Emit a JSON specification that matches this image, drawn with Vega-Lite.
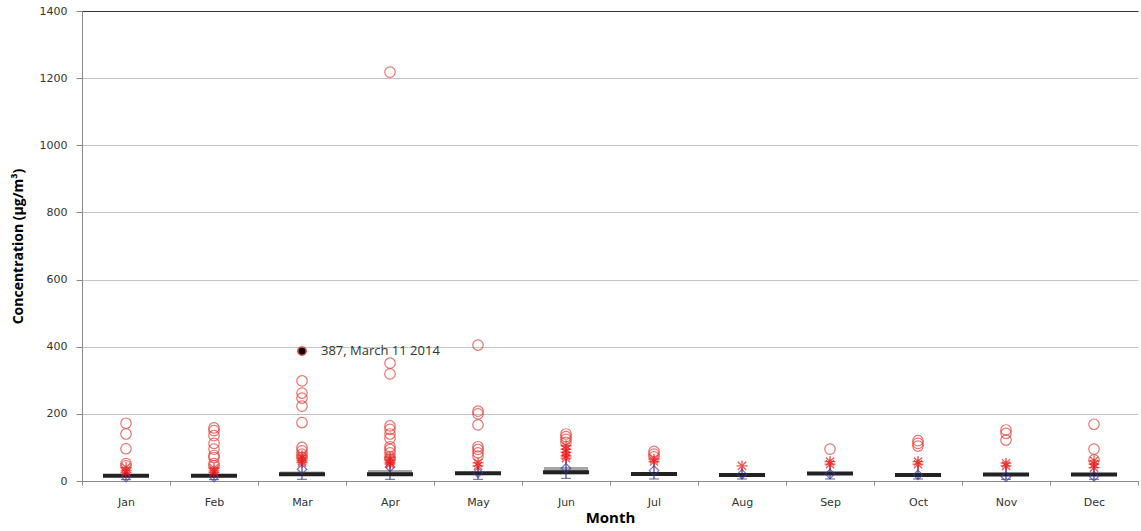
{
  "$schema": "https://vega.github.io/schema/vega-lite/v6.json",
  "width": 1056,
  "height": 470,
  "autosize": "none",
  "padding": {"left": 82, "top": 11, "right": 3, "bottom": 50},
  "background": "white",
  "config": {
    "view": {"stroke": null},
    "axis": {"labelFont": "DejaVu Sans", "labelFontSize": 11, "labelColor": "#333", "titleFont": "Open Sans", "titleFontSize": 14, "titleFontWeight": "bold", "titleColor": "#000", "domainColor": "#888", "tickColor": "#888"}
  },
  "datasets": {
    "stats": [
      {"month": "Jan", "q1": 13, "q3": 19, "median": 16, "mean": 12, "lo": 4, "hi": 30},
      {"month": "Feb", "q1": 13, "q3": 19, "median": 16, "mean": 12, "lo": 4, "hi": 30},
      {"month": "Mar", "q1": 15, "q3": 28, "median": 20, "mean": 35, "lo": 5, "hi": 60},
      {"month": "Apr", "q1": 15, "q3": 33, "median": 20, "mean": 42, "lo": 5, "hi": 60},
      {"month": "May", "q1": 18, "q3": 26, "median": 23, "mean": 25, "lo": 5, "hi": 45},
      {"month": "Jun", "q1": 20, "q3": 42, "median": 26, "mean": 38, "lo": 8, "hi": 65},
      {"month": "Jul", "q1": 18, "q3": 24, "median": 21, "mean": 31, "lo": 6, "hi": 60},
      {"month": "Aug", "q1": 16, "q3": 22, "median": 18, "mean": 20, "lo": 6, "hi": 40},
      {"month": "Sep", "q1": 18, "q3": 25, "median": 22, "mean": 21, "lo": 6, "hi": 50},
      {"month": "Oct", "q1": 15, "q3": 22, "median": 18, "mean": 18, "lo": 6, "hi": 45},
      {"month": "Nov", "q1": 15, "q3": 22, "median": 19, "mean": 13, "lo": 5, "hi": 45},
      {"month": "Dec", "q1": 15, "q3": 22, "median": 19, "mean": 14, "lo": 5, "hi": 50}
    ],
    "stars": [
      {"month": "Jan", "value": 40}, {"month": "Jan", "value": 30}, {"month": "Jan", "value": 25},
      {"month": "Feb", "value": 38}, {"month": "Feb", "value": 30}, {"month": "Feb", "value": 25},
      {"month": "Mar", "value": 75}, {"month": "Mar", "value": 68}, {"month": "Mar", "value": 60}, {"month": "Mar", "value": 55},
      {"month": "Apr", "value": 70}, {"month": "Apr", "value": 62}, {"month": "Apr", "value": 55}, {"month": "Apr", "value": 50},
      {"month": "May", "value": 54}, {"month": "May", "value": 45},
      {"month": "Jun", "value": 105}, {"month": "Jun", "value": 95}, {"month": "Jun", "value": 85}, {"month": "Jun", "value": 75}, {"month": "Jun", "value": 68},
      {"month": "Jul", "value": 65}, {"month": "Jul", "value": 58},
      {"month": "Aug", "value": 45},
      {"month": "Sep", "value": 58}, {"month": "Sep", "value": 50},
      {"month": "Oct", "value": 58}, {"month": "Oct", "value": 50},
      {"month": "Nov", "value": 53}, {"month": "Nov", "value": 45},
      {"month": "Dec", "value": 60}, {"month": "Dec", "value": 50}, {"month": "Dec", "value": 40}
    ],
    "outliers": [
      {"month": "Jan", "value": 172}, {"month": "Jan", "value": 140}, {"month": "Jan", "value": 96}, {"month": "Jan", "value": 52}, {"month": "Jan", "value": 45},
      {"month": "Feb", "value": 158}, {"month": "Feb", "value": 150}, {"month": "Feb", "value": 135}, {"month": "Feb", "value": 112}, {"month": "Feb", "value": 95}, {"month": "Feb", "value": 76}, {"month": "Feb", "value": 70}, {"month": "Feb", "value": 52}, {"month": "Feb", "value": 45},
      {"month": "Mar", "value": 298}, {"month": "Mar", "value": 262}, {"month": "Mar", "value": 247}, {"month": "Mar", "value": 223}, {"month": "Mar", "value": 174}, {"month": "Mar", "value": 100}, {"month": "Mar", "value": 90}, {"month": "Mar", "value": 80}, {"month": "Mar", "value": 70},
      {"month": "Apr", "value": 1218}, {"month": "Apr", "value": 351}, {"month": "Apr", "value": 319}, {"month": "Apr", "value": 164}, {"month": "Apr", "value": 154}, {"month": "Apr", "value": 140}, {"month": "Apr", "value": 127}, {"month": "Apr", "value": 102}, {"month": "Apr", "value": 94}, {"month": "Apr", "value": 84}, {"month": "Apr", "value": 72}, {"month": "Apr", "value": 65},
      {"month": "May", "value": 405}, {"month": "May", "value": 208}, {"month": "May", "value": 200}, {"month": "May", "value": 167}, {"month": "May", "value": 102}, {"month": "May", "value": 94}, {"month": "May", "value": 84}, {"month": "May", "value": 74},
      {"month": "Jun", "value": 140}, {"month": "Jun", "value": 132}, {"month": "Jun", "value": 124}, {"month": "Jun", "value": 115},
      {"month": "Jul", "value": 88}, {"month": "Jul", "value": 80}, {"month": "Jul", "value": 72},
      {"month": "Sep", "value": 95},
      {"month": "Oct", "value": 120}, {"month": "Oct", "value": 112}, {"month": "Oct", "value": 104},
      {"month": "Nov", "value": 152}, {"month": "Nov", "value": 142}, {"month": "Nov", "value": 122},
      {"month": "Dec", "value": 169}, {"month": "Dec", "value": 95}, {"month": "Dec", "value": 63}
    ],
    "highlight": [
      {"month": "Mar", "value": 387, "label": "387, March 11 2014"}
    ]
  },
  "encoding": {
    "x": {
      "field": "month", "type": "nominal",
      "sort": ["Jan", "Feb", "Mar", "Apr", "May", "Jun", "Jul", "Aug", "Sep", "Oct", "Nov", "Dec"],
      "scale": {"type": "band", "paddingInner": 0, "paddingOuter": 0, "domain": ["Jan", "Feb", "Mar", "Apr", "May", "Jun", "Jul", "Aug", "Sep", "Oct", "Nov", "Dec"]},
      "axis": {"title": "Month", "titleFontSize": 15, "labelAngle": 0, "tickBand": "extent", "tickSize": 4, "labelPadding": 11, "titlePadding": 3, "grid": false}
    }
  },
  "layer": [
    {
      "data": {"name": "stats"},
      "mark": {"type": "bar", "size": 44, "color": "#a6a6a6"},
      "encoding": {
        "y": {"field": "q1", "type": "quantitative",
          "scale": {"domain": [0, 1400], "nice": false},
          "axis": {"title": "Concentration (µg/m³)", "format": "d", "values": [0, 200, 400, 600, 800, 1000, 1200, 1400], "tickSize": 6, "labelPadding": 9, "titlePadding": 14,
            "gridColor": {"condition": {"test": "datum.value === 1400", "value": "#333"}, "value": "#c4c4c4"}}},
        "y2": {"field": "q3"}
      }
    },
    {
      "data": {"name": "stats"},
      "mark": {"type": "rule", "color": "#22226e", "strokeWidth": 1},
      "encoding": {"y": {"field": "lo", "type": "quantitative"}, "y2": {"field": "hi"}}
    },
    {
      "data": {"name": "stats"},
      "mark": {"type": "tick", "color": "#22226e", "size": 10, "thickness": 1},
      "encoding": {"y": {"field": "lo", "type": "quantitative"}}
    },
    {
      "data": {"name": "stats"},
      "mark": {"type": "tick", "color": "#222222", "size": 46, "thickness": 4, "opacity": 1},
      "encoding": {"y": {"field": "median", "type": "quantitative"}}
    },
    {
      "data": {"name": "stats"},
      "mark": {"type": "point", "shape": "diamond", "filled": false, "stroke": "#3636b8", "strokeWidth": 1.2, "size": 90},
      "encoding": {"y": {"field": "mean", "type": "quantitative"}}
    },
    {
      "data": {"name": "stars"},
      "mark": {"type": "point", "shape": "M-1,0L1,0M0,-1L0,1M-0.75,-0.75L0.75,0.75M-0.75,0.75L0.75,-0.75", "filled": false, "stroke": "#ee1111", "strokeWidth": 1.3, "size": 120},
      "encoding": {"y": {"field": "value", "type": "quantitative"}}
    },
    {
      "data": {"name": "outliers"},
      "mark": {"type": "point", "shape": "circle", "filled": false, "stroke": "#e03a32", "strokeWidth": 1.2, "size": 110},
      "encoding": {"y": {"field": "value", "type": "quantitative"}}
    },
    {
      "data": {"name": "highlight"},
      "mark": {"type": "point", "shape": "circle", "filled": true, "fill": "#000000", "stroke": "#e05050", "strokeWidth": 1.5, "opacity": 1, "size": 70},
      "encoding": {"y": {"field": "value", "type": "quantitative"}}
    },
    {
      "data": {"name": "highlight"},
      "mark": {"type": "text", "align": "left", "baseline": "middle", "dx": 19, "font": "Open Sans", "fontSize": 13, "color": "#333333"},
      "encoding": {"y": {"field": "value", "type": "quantitative"}, "text": {"field": "label"}}
    }
  ]
}
